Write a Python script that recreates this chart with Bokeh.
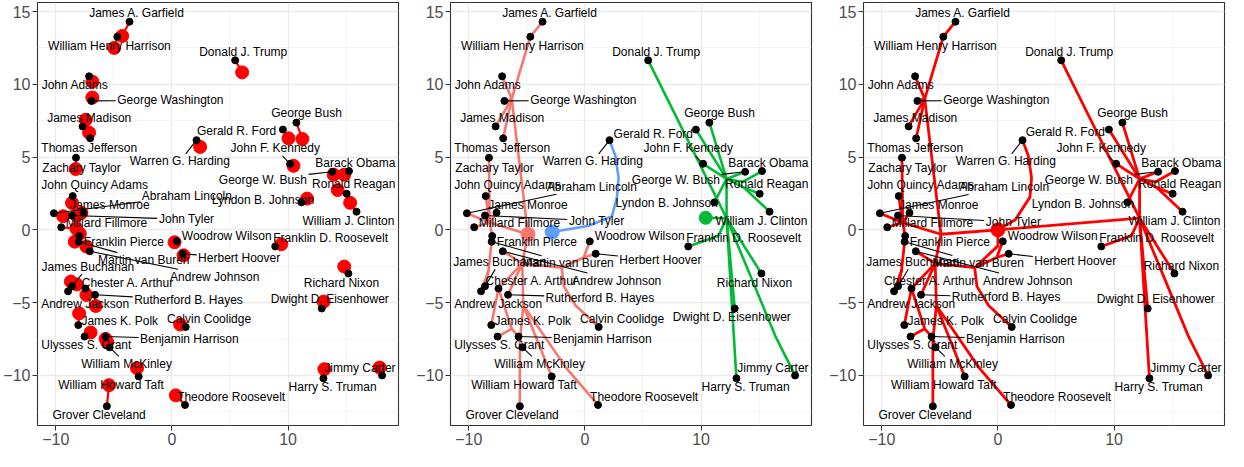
import math
from bokeh.plotting import figure
from bokeh.models import Range1d, FixedTicker, CustomJSTickFormatter, ColumnDataSource
from bokeh.layouts import row
from bokeh.embed import file_html
from bokeh.resources import INLINE
from bokeh.core.properties import value

# ---------------- data ----------------
names = ["George Washington", "John Adams", "Thomas Jefferson", "James Madison", "James Monroe",
         "John Quincy Adams", "Andrew Jackson", "Martin van Buren", "William Henry Harrison", "John Tyler",
         "James K. Polk", "Zachary Taylor", "Millard Fillmore", "Franklin Pierce", "James Buchanan",
         "Abraham Lincoln", "Andrew Johnson", "Ulysses S. Grant", "Rutherford B. Hayes", "James A. Garfield",
         "Chester A. Arthur", "Grover Cleveland", "Benjamin Harrison", "William McKinley", "Theodore Roosevelt",
         "William Howard Taft", "Woodrow Wilson", "Warren G. Harding", "Calvin Coolidge", "Herbert Hoover",
         "Franklin D. Roosevelt", "Harry S. Truman", "Dwight D. Eisenhower", "John F. Kennedy", "Lyndon B. Johnson",
         "Richard Nixon", "Gerald R. Ford", "Jimmy Carter", "Ronald Reagan", "George Bush",
         "William J. Clinton", "George W. Bush", "Barack Obama", "Donald J. Trump"]
pres_x = [-6.93, -7.13, -7.04, -7.69, -7.61,
          -8.54, -8.94, -8.03, -4.70, -8.60,
          -8.06, -8.26, -9.53, -7.98, -8.60,
          -10.16, -7.07, -7.52, -6.62, -3.65,
          -7.44, -5.60, -5.71, -5.37, 1.13,
          -2.86, 0.42, 2.12, 1.19, 0.93,
          8.90, 13.05, 12.90, 10.18, 11.15,
          15.20, 9.56, 18.10, 15.05, 10.72,
          15.90, 13.80, 15.25, 5.45]
pres_y = [8.86, 10.55, 6.29, 7.11, 1.18,
          2.32, -4.22, -0.81, 13.27, 0.99,
          -6.54, 4.96, 0.18, -0.42, -3.87,
          1.14, -1.47, -7.33, -4.46, 14.30,
          -4.03, -12.12, -7.33, -8.07, -12.03,
          -10.07, -0.79, 6.16, -6.67, -1.64,
          -1.14, -10.20, -5.40, 4.54, 1.89,
          -3.00, 6.89, -10.00, 2.48, 7.37,
          1.25, 3.99, 4.04, 11.65]
# fitted positions (panel 1, red)
fit_x = [-6.85, -6.85, -7.13, -7.42, -7.79,
         -8.60, -8.20, -8.36, -4.97, -8.22,
         -7.99, -8.28, -8.22, -7.93, -8.70,
         -9.36, -7.36, -7.00, -6.56, -4.28,
         -7.36, -5.42, -5.71, -5.57, 0.34,
         -3.00, 0.23, 2.43, 0.71, 1.00,
         9.42, 13.13, 13.07, 10.47, 11.64,
         14.84, 10.04, 17.89, 14.27, 11.24,
         15.35, 13.93, 14.84, 6.05]
fit_y = [9.09, 10.18, 6.68, 7.56, 1.16,
         1.85, -3.75, -0.81, 12.50, 0.99,
         -5.74, 4.18, 0.07, -0.26, -3.55,
         0.94, -1.14, -7.05, -5.23, 13.32,
         -4.47, -10.67, -7.49, -7.71, -11.37,
         -9.50, -0.85, 5.70, -6.50, -1.75,
         -0.99, -9.57, -4.93, 4.40, 2.15,
         -2.52, 6.29, -9.46, 2.74, 6.24,
         1.86, 3.79, 3.79, 10.82]

# tree nodes (fitted graph)
node_names = ["S0", "B0", "G0", "C", "LA", "LB", "LC", "LD", "LW", "LCo1", "LCo2", "LE", "LF", "LG", "LT", "LCl",
              "GT", "GH", "GO", "GR", "GF", "GC", "BP1", "BP2", "BP3", "BP4", "BP5", "BQ1", "CD"]
node_x = [-4.9, -2.82, 10.4, 0.0, -6.3, -8.2, -5.4, -2.0, -0.1, -1.8, -0.8, -8.3, -6.3, -5.3, -1.6, -5.6,
          12.2, 12.2, 13.6, 13.7, 11.5, 16.4, 0.34, 2.33, 2.76, 2.9, 2.62, 1.5, 0.0]
node_y = [-0.3, -0.15, 0.83, 0.0, 9.0, 0.5, -2.3, -2.6, -1.9, -3.9, -5.2, -2.8, -6.8, -5.2, -9.5, -7.6,
          0.8, 3.5, 3.3, 2.9, -0.4, -7.3, 0.28, 0.94, 2.25, 3.57, 5.1, 0.7, -1.1]

left_paths = [
    ["ROOT_S", "LA"], ["LA", "George Washington"], ["LA", "John Adams"],
    ["LA", "William Henry Harrison", "James A. Garfield"], ["LA", "James Madison"], ["LA", "Thomas Jefferson"],
    ["ROOT_S", "LB"], ["LB", "Zachary Taylor"], ["LB", "John Quincy Adams"], ["LB", "James Monroe"],
    ["LB", "John Tyler"], ["LB", "Abraham Lincoln"], ["LB", "Millard Fillmore"],
    ["LB", "Franklin Pierce", "Martin van Buren", "LE"], ["LE", "James Buchanan"], ["LE", "Andrew Jackson"],
    ["ROOT_S", "LC"], ["LC", "Andrew Johnson"], ["LC", "LD"], ["LD", "LW", "Woodrow Wilson"],
    ["LW", "Herbert Hoover"], ["LD", "LCo1", "LCo2", "Calvin Coolidge"],
    ["LC", "Chester A. Arthur", "James K. Polk"], ["Chester A. Arthur", "LF"], ["LC", "Rutherford B. Hayes"],
    ["LF", "Ulysses S. Grant"], ["LF", "Benjamin Harrison", "William McKinley"],
    ["LC", "LG"], ["LG", "William Howard Taft"], ["LG", "LT", "Theodore Roosevelt"],
    ["LG", "LCl", "Grover Cleveland"],
]
green_paths = [
    ["ROOT_G", "GT"], ["GT", "GH"], ["GH", "Gerald R. Ford"], ["GH", "George Bush"],
    ["GH", "John F. Kennedy"], ["GH", "George W. Bush"], ["GH", "GO", "Barack Obama"],
    ["GH", "GR", "Ronald Reagan"], ["GR", "William J. Clinton"], ["GH", "Lyndon B. Johnson"],
    ["Donald J. Trump", "GT"], ["GT", "GF", "Franklin D. Roosevelt"], ["GT", "Richard Nixon"],
    ["GT", "Dwight D. Eisenhower"], ["GT", "Harry S. Truman"], ["GT", "GC", "Jimmy Carter"],
]
blue_path2 = ["B0", "BP1", "BP2", "BP3", "BP4", "BP5", "Warren G. Harding"]
blue_path3 = ["C", "BQ1", "BP3", "BP4", "BP5", "Warren G. Harding"]
center_paths3 = [["C", "S0"], ["C", "CD", "LD"]]

# label centres (panel 1) and per-panel changes
label_pos_1 = {
    "James A. Garfield": (-3.02, 14.91), "William Henry Harrison": (-5.38, 12.61), "John Adams": (-8.34, 9.92),
    "George Washington": (-0.13, 8.91), "James Madison": (-7.12, 7.69), "Thomas Jefferson": (-7.12, 5.65),
    "Zachary Taylor": (-7.77, 4.27), "John Quincy Adams": (-6.63, 3.09), "Abraham Lincoln": (1.29, 2.35),
    "James Monroe": (-5.34, 1.71), "John Tyler": (1.27, 0.72), "Millard Fillmore": (-5.64, 0.44),
    "Franklin Pierce": (-4.14, -0.81), "Martin van Buren": (-2.42, -2.08), "James Buchanan": (-7.23, -2.52),
    "Andrew Johnson": (3.69, -3.22), "Chester A. Arthur": (-3.77, -3.66), "Rutherford B. Hayes": (1.43, -4.82),
    "Andrew Jackson": (-7.47, -5.12), "James K. Polk": (-4.49, -6.29), "Ulysses S. Grant": (-7.37, -7.93),
    "Benjamin Harrison": (1.5, -7.49), "William McKinley": (-3.9, -9.2), "William Howard Taft": (-5.23, -10.66),
    "Theodore Roosevelt": (5.1, -11.48), "Grover Cleveland": (-6.27, -12.75), "Woodrow Wilson": (4.72, -0.45),
    "Herbert Hoover": (5.79, -1.95), "Calvin Coolidge": (3.2, -6.11), "Franklin D. Roosevelt": (13.67, -0.59),
    "Richard Nixon": (14.6, -3.66), "Dwight D. Eisenhower": (13.6, -4.75), "Jimmy Carter": (16.3, -9.46),
    "Harry S. Truman": (13.85, -10.82), "Donald J. Trump": (6.15, 12.22), "George Bush": (11.6, 8.0),
    "Gerald R. Ford": (5.57, 6.81), "Warren G. Harding": (0.68, 4.71), "John F. Kennedy": (8.9, 5.6),
    "Barack Obama": (15.8, 4.6), "George W. Bush": (7.83, 3.46), "Ronald Reagan": (15.66, 3.17),
    "Lyndon B. Johnson": (7.84, 2.04), "William J. Clinton": (15.2, 0.61),
}
label_over_2 = {
    "Dwight D. Eisenhower": (12.65, -6.02), "Chester A. Arthur": (-4.56, -3.48), "Andrew Johnson": (2.73, -3.48),
    "Rutherford B. Hayes": (1.29, -4.65), "Martin van Buren": (-1.45, -2.3), "James Buchanan": (-8.05, -2.2),
    "Herbert Hoover": (6.5, -2.08), "Lyndon B. Johnson": (7.05, 1.82), "Abraham Lincoln": (0.6, 2.96),
    "James Monroe": (-4.9, 1.71), "Gerald R. Ford": (5.89, 6.59), "John Tyler": (1.02, 0.61),
}
label_over_3 = {
    "Richard Nixon": (15.8, -2.45), "Chester A. Arthur": (-5.82, -3.48), "Abraham Lincoln": (0.54, 2.94),
    "James Monroe": (-5.1, 1.69), "James Buchanan": (-7.89, -2.19), "Herbert Hoover": (6.66, -2.17),
    "Andrew Johnson": (2.56, -3.48), "Rutherford B. Hayes": (0.71, -4.64), "Martin van Buren": (-1.7, -2.28),
    "William Howard Taft": (-4.65, -10.66), "Lyndon B. Johnson": (7.33, 1.8), "John Tyler": (1.34, 0.53),
    "Gerald R. Ford": (5.81, 6.69),
}
seg_names = {"George Washington", "Abraham Lincoln", "John Tyler", "Warren G. Harding", "John F. Kennedy",
             "George W. Bush", "Herbert Hoover", "Martin van Buren", "Andrew Johnson", "Rutherford B. Hayes",
             "Benjamin Harrison", "William McKinley", "James Buchanan"}

x_ticks = [-10, 0, 10]
y_ticks = [-10, -5, 0, 5, 10, 15]

# ---------------- layout / style ----------------
FONT = "Liberation Sans"
LABEL_SIZE = 12
BOX_SIZE = 12
TICK_SIZE = "16px"
FIG_H = 451
FRAME_W = 362
FRAME_H = 423
BORDER_L = 36
BORDERS_R = [15, 15, 4]

HELV = {' ': 278, '.': 278, 'A': 667, 'B': 667, 'C': 722, 'D': 722, 'E': 667, 'F': 611, 'G': 778, 'H': 722,
        'J': 500, 'K': 667, 'L': 556, 'M': 833, 'N': 722, 'O': 778, 'P': 667, 'R': 722, 'S': 667, 'T': 611,
        'U': 722, 'W': 944, 'Z': 611, 'a': 556, 'b': 556, 'c': 500, 'd': 556, 'e': 556, 'f': 278, 'g': 556,
        'h': 556, 'i': 222, 'j': 222, 'k': 500, 'l': 222, 'm': 833, 'n': 556, 'o': 556, 'p': 556, 'q': 556,
        'r': 333, 's': 500, 't': 278, 'u': 556, 'v': 500, 'w': 722, 'x': 500, 'y': 500, 'z': 500}


def text_w(s):
    return sum(HELV.get(c, 556) for c in s) * BOX_SIZE / 1000.0


xspan = max(pres_x) - min(pres_x)
yspan = max(pres_y) - min(pres_y)
xlo, xhi = min(pres_x) - 0.05 * xspan, max(pres_x) + 0.05 * xspan
ylo, yhi = min(pres_y) - 0.05 * yspan, max(pres_y) + 0.05 * yspan
SX = FRAME_W / (xhi - xlo)
SY = FRAME_H / (yhi - ylo)

pos = {n: (x, y) for n, x, y in zip(names, pres_x, pres_y)}
pos.update({n: (x, y) for n, x, y in zip(node_names, node_x, node_y)})


def path_xy(path, roots):
    xs, ys = [], []
    for k in path:
        k = roots.get(k, k)
        xs.append(pos[k][0])
        ys.append(pos[k][1])
    return xs, ys


def make_fig(right):
    p = figure(width=BORDER_L + FRAME_W + right, height=FIG_H,
               x_range=Range1d(xlo, xhi), y_range=Range1d(ylo, yhi),
               output_backend="svg", toolbar_location=None,
               min_border_left=BORDER_L, min_border_right=right, min_border_top=2, min_border_bottom=26)
    p.background_fill_color = "white"
    p.border_fill_color = "white"
    p.outline_line_color = "#333333"
    p.outline_line_width = 1.1
    p.xaxis.ticker = FixedTicker(ticks=x_ticks)
    p.yaxis.ticker = FixedTicker(ticks=y_ticks)
    p.xgrid.ticker = FixedTicker(ticks=x_ticks, minor_ticks=[-15, -5, 5, 15])
    p.ygrid.ticker = FixedTicker(ticks=y_ticks, minor_ticks=[-12.5, -7.5, -2.5, 2.5, 7.5, 12.5])
    for g in (p.xgrid, p.ygrid):
        g.grid_line_color = "#EBEBEB"
        g.grid_line_width = 1.3
        g.minor_grid_line_color = "#F2F2F2"
        g.minor_grid_line_width = 0.8
    fmt = CustomJSTickFormatter(code="return tick < 0 ? '\\u2212' + (-tick) : '' + tick;")
    for ax in (p.xaxis[0], p.yaxis[0]):
        ax.formatter = fmt
        ax.axis_line_color = None
        ax.major_tick_line_color = "#333333"
        ax.major_tick_out = 5
        ax.major_tick_in = 0
        ax.minor_tick_out = 0
        ax.minor_tick_in = 0
        ax.major_label_standoff = 2
        ax.major_label_text_color = "#4D4D4D"
        ax.major_label_text_font = FONT
        ax.major_label_text_font_size = TICK_SIZE
    return p


def add_points_and_labels(p, overrides):
    p.scatter(pres_x, pres_y, size=7, color="black")
    lx, ly, sx0, sy0, sx1, sy1 = [], [], [], [], [], []
    for n, x, y in zip(names, pres_x, pres_y):
        cx, cy = overrides.get(n, label_pos_1[n])
        # keep the label inside the panel
        hwd = (text_w(n) / 2 + 3) / SX
        hhd = (BOX_SIZE / 2 + 2) / SY
        cx = min(max(cx, xlo + hwd), xhi - hwd)
        cy = min(max(cy, ylo + hhd), yhi - hhd)
        lx.append(cx)
        ly.append(cy)
        if n in seg_names:
            dx = (x - cx) * SX
            dy = (y - cy) * SY
            hw = text_w(n) / 2 + 1.5
            hh = BOX_SIZE / 2 + 1.5
            if abs(dx) > hw or abs(dy) > hh:
                s = min(hw / abs(dx) if dx else 1e9, hh / abs(dy) if dy else 1e9)
                sx0.append(x)
                sy0.append(y)
                sx1.append(cx + dx * s / SX)
                sy1.append(cy + dy * s / SY)
    p.segment(sx0, sy0, sx1, sy1, line_color="black", line_width=1.1)
    src = ColumnDataSource(dict(x=lx, y=ly, t=names))
    p.text(x="x", y="y", text="t", source=src, text_font=value(FONT), text_font_size=f"{LABEL_SIZE}px",
           text_align="center", text_baseline="middle", text_color="black")


# ---------------- panel 1 ----------------
p1 = make_fig(BORDERS_R[0])
p1.segment(pres_x, pres_y, fit_x, fit_y, line_color="#FF0000", line_width=2.2)
p1.scatter(fit_x, fit_y, size=13, color="#FF0000")
add_points_and_labels(p1, {})

# ---------------- panel 2 ----------------
p2 = make_fig(BORDERS_R[1])
roots2 = {"ROOT_S": "S0", "ROOT_G": "G0"}
for paths, col in ((left_paths, "#F8766D"), (green_paths, "#00BA38")):
    mx, my = [], []
    for pth in paths:
        a, b = path_xy(pth, roots2)
        mx.append(a)
        my.append(b)
    p2.multi_line(mx, my, line_color=col, line_width=2.6, line_join="round", line_cap="round")
bx, by = path_xy(blue_path2, {})
p2.line(bx, by, line_color="#619CFF", line_width=2.6, line_join="round", line_cap="round")
p2.scatter([pos["S0"][0]], [pos["S0"][1]], size=14, color="#F8766D")
p2.scatter([pos["B0"][0]], [pos["B0"][1]], size=14, color="#619CFF")
p2.scatter([pos["G0"][0]], [pos["G0"][1]], size=13, color="#00BA38")
add_points_and_labels(p2, label_over_2)

# ---------------- panel 3 ----------------
p3 = make_fig(BORDERS_R[2])
roots3 = {"ROOT_S": "S0", "ROOT_G": "C"}
mx, my = [], []
for pth in left_paths + green_paths + center_paths3 + [blue_path3]:
    a, b = path_xy(pth, roots3)
    mx.append(a)
    my.append(b)
p3.multi_line(mx, my, line_color="#FF0000", line_width=2.8, line_join="round", line_cap="round")
p3.scatter([pos["C"][0]], [pos["C"][1]], size=14, color="#FF0000")
add_points_and_labels(p3, label_over_3)

layout = row(p1, p2, p3)
open("out.html", "w").write(file_html(layout, INLINE))
